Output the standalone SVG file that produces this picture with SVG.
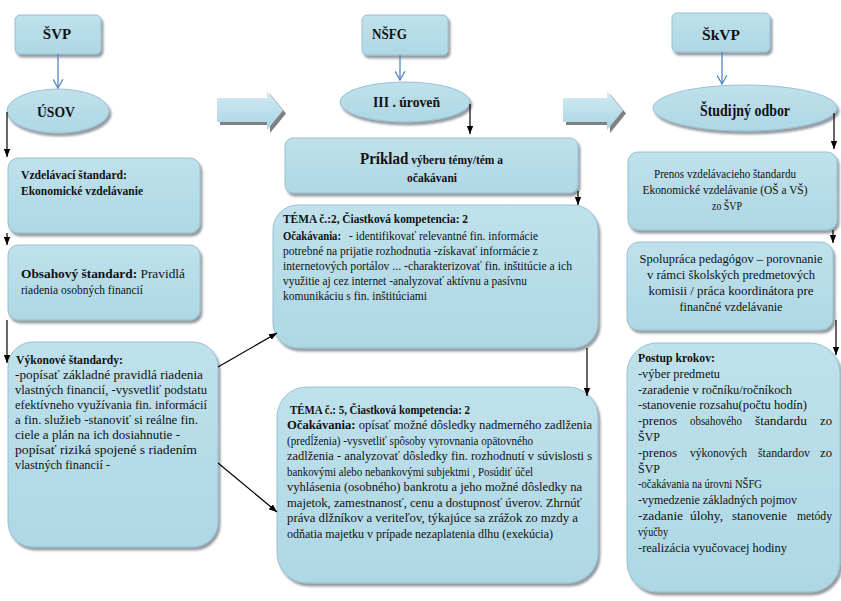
<svg xmlns="http://www.w3.org/2000/svg" width="841" height="601" viewBox="0 0 841 601">
<style>
.box{fill:url(#bg);stroke:#98c1d1;stroke-width:1;filter:url(#sh)}
.t{font-family:"Liberation Serif","Times New Roman",serif;font-size:13px;fill:#111}
.b{font-weight:bold}
.h{font-family:"Liberation Serif","Times New Roman",serif;font-size:15px;font-weight:bold;fill:#111}
.c{text-anchor:middle}
.k{stroke:#000;stroke-width:1.2;fill:none;marker-end:url(#ah)}
.bl{stroke:#5585c5;stroke-width:1.3;fill:none;marker-end:url(#ab)}
.ba{fill:url(#ag)}
.bs{fill:#808080}
</style>
<defs>
<linearGradient id="bg" x1="0" y1="0" x2="0" y2="1"><stop offset="0" stop-color="#bfe1ec"/><stop offset="1" stop-color="#aed7e4"/></linearGradient>
<linearGradient id="ag" x1="0" y1="0" x2="0" y2="1"><stop offset="0" stop-color="#d3ecf4"/><stop offset="1" stop-color="#a9d3e3"/></linearGradient>
<filter id="sh" x="-5%" y="-5%" width="115%" height="120%"><feDropShadow dx="2" dy="3" stdDeviation="1.2" flood-color="#3a4a55" flood-opacity="0.55"/></filter>
<marker id="ah" viewBox="0 0 10 10" refX="10" refY="5" markerWidth="8" markerHeight="8" markerUnits="userSpaceOnUse" orient="auto"><path d="M0,1 L10,5 L0,9 z" fill="#000"/></marker>
<marker id="ab" viewBox="0 0 10 10" refX="9" refY="5" markerWidth="11" markerHeight="11" markerUnits="userSpaceOnUse" orient="auto"><path d="M1,0.5 L9,5 L1,9.5" fill="none" stroke="#5585c5" stroke-width="1.2"/></marker>
</defs>
<rect width="841" height="601" fill="#fff"/>

<g id="block-arrow-1">
<polygon class="bs" points="220,101 270,101 270,94 286,113.5 270,133 270,125 220,125"/>
<polygon class="ba" points="217,98 267,98 267,91 283,110.5 267,130 267,122 217,122"/>
</g>
<g id="block-arrow-2">
<polygon class="bs" points="566,101 610,101 610,94 626,113.5 610,133 610,125 566,125"/>
<polygon class="ba" points="563,98 607,98 607,91 623,110.5 607,130 607,122 563,122"/>
</g>

<g id="svp"><rect class="box" x="15" y="15" width="86" height="39" rx="5"/><text class="h c" x="57" y="39">ŠVP</text></g>
<g id="usov"><ellipse class="box" cx="58" cy="111" rx="51" ry="22"/><text class="h c" x="56" y="117" textLength="38" lengthAdjust="spacingAndGlyphs">ÚSOV</text></g>
<g id="vzdelavaci"><rect class="box" x="8" y="158" width="192" height="75" rx="10"/>
<text class="t b" x="21" y="179" textLength="106" lengthAdjust="spacingAndGlyphs">Vzdelávací štandard:</text>
<text class="t b" x="21" y="195" textLength="122" lengthAdjust="spacingAndGlyphs">Ekonomické vzdelávanie</text></g>
<g id="obsahovy"><rect class="box" x="8" y="245" width="192" height="75" rx="10"/>
<text class="t" x="21" y="278" textLength="164" lengthAdjust="spacingAndGlyphs"><tspan class="b">Obsahový štandard:</tspan> Pravidlá</text>
<text class="t" x="21" y="294" textLength="122" lengthAdjust="spacingAndGlyphs">riadenia osobných financií</text></g>
<g id="vykonove"><rect class="box" x="8" y="342" width="210" height="205" rx="25"/>
<text class="t b" x="16" y="364" textLength="107" lengthAdjust="spacingAndGlyphs">Výkonové štandardy:</text>
<text class="t" x="15" y="379" textLength="188" lengthAdjust="spacingAndGlyphs">-popísať základné pravidlá riadenia</text>
<text class="t" x="15" y="394" textLength="192" lengthAdjust="spacingAndGlyphs">vlastných financií, -vysvetliť podstatu</text>
<text class="t" x="15" y="409" textLength="192" lengthAdjust="spacingAndGlyphs">efektívneho využívania fin. informácií</text>
<text class="t" x="15" y="424" textLength="183" lengthAdjust="spacingAndGlyphs">a fin. služieb -stanoviť si reálne fin.</text>
<text class="t" x="15" y="439" textLength="165" lengthAdjust="spacingAndGlyphs">ciele a plán na ich dosiahnutie -</text>
<text class="t" x="15" y="454" textLength="182" lengthAdjust="spacingAndGlyphs">popísať riziká spojené s riadením</text>
<text class="t" x="15" y="469" textLength="95" lengthAdjust="spacingAndGlyphs">vlastných financií -</text></g>

<g id="nsfg"><rect class="box" x="362" y="15" width="86" height="40" rx="5"/><text class="h" x="372" y="39" textLength="35" lengthAdjust="spacingAndGlyphs">NŠFG</text></g>
<g id="uroven"><ellipse class="box" cx="405" cy="102" rx="65" ry="20"/><text class="h" x="373" y="107" textLength="67" lengthAdjust="spacingAndGlyphs">III . úroveň</text></g>
<g id="priklad"><rect class="box" x="285" y="138" width="293" height="55" rx="8"/>
<text class="t b" x="360" y="164" textLength="143" lengthAdjust="spacingAndGlyphs"><tspan style="font-size:17px">Príklad</tspan> výberu témy/tém a</text>
<text class="t b" x="407" y="182" textLength="50" lengthAdjust="spacingAndGlyphs">očakávani</text></g>
<g id="tema2"><rect class="box" x="273" y="205" width="325" height="143" rx="25"/>
<text class="t b" x="283" y="223" textLength="185" lengthAdjust="spacingAndGlyphs">TÉMA č.:2, Čiastková kompetencia: 2</text>
<text class="t b" x="283" y="239.5" style="font-size:12px" textLength="58" lengthAdjust="spacingAndGlyphs">Očakávania:</text>
<text class="t" x="349" y="239.5" textLength="189" lengthAdjust="spacingAndGlyphs">- identifikovať relevantné fin. informácie</text>
<text class="t" x="283" y="255" textLength="255" lengthAdjust="spacingAndGlyphs">potrebné na prijatie rozhodnutia -získavať informácie z</text>
<text class="t" x="283" y="270" textLength="289" lengthAdjust="spacingAndGlyphs">internetových portálov ... -charakterizovať fin. inštitúcie a ich</text>
<text class="t" x="283" y="285" textLength="244" lengthAdjust="spacingAndGlyphs">využitie aj cez internet -analyzovať aktívnu a pasívnu</text>
<text class="t" x="283" y="300" textLength="144" lengthAdjust="spacingAndGlyphs">komunikáciu s fin. inštitúciami</text></g>
<g id="tema5"><rect class="box" x="277" y="387" width="321" height="196" rx="30"/>
<text class="t b" x="290" y="414" textLength="180" lengthAdjust="spacingAndGlyphs">TÉMA č.: 5, Čiastková kompetencia: 2</text>
<text class="t" x="287" y="429" textLength="305" lengthAdjust="spacingAndGlyphs"><tspan class="b">Očakávania:</tspan> opísať možné dôsledky nadmerného zadlženia</text>
<text class="t" x="287" y="445" textLength="246" lengthAdjust="spacingAndGlyphs">(predĺženia) -vysvetliť spôsoby vyrovnania opätovného</text>
<text class="t" x="287" y="460" textLength="305" lengthAdjust="spacingAndGlyphs">zadlženia - analyzovať dôsledky fin. rozhodnutí v súvislosti s</text>
<text class="t" x="287" y="476" textLength="246" lengthAdjust="spacingAndGlyphs">bankovými alebo nebankovými subjektmi , Posúdiť účel</text>
<text class="t" x="287" y="491" textLength="295" lengthAdjust="spacingAndGlyphs">vyhlásenia (osobného) bankrotu a jeho možné dôsledky na</text>
<text class="t" x="287" y="507" textLength="295" lengthAdjust="spacingAndGlyphs">majetok, zamestnanosť, cenu a dostupnosť úverov. Zhrnúť</text>
<text class="t" x="287" y="522" textLength="291" lengthAdjust="spacingAndGlyphs">práva dlžníkov a veriteľov, týkajúce sa zrážok zo mzdy a</text>
<text class="t" x="287" y="538" textLength="266" lengthAdjust="spacingAndGlyphs">odňatia majetku v prípade nezaplatenia dlhu (exekúcia)</text></g>

<g id="skvp"><rect class="box" x="672" y="13" width="98" height="39" rx="5"/><text class="h c" x="721" y="40" textLength="38" lengthAdjust="spacingAndGlyphs">ŠkVP</text></g>
<g id="studijny"><ellipse class="box" cx="745" cy="108" rx="92" ry="23"/><text class="h c" x="745" y="116" style="font-size:16px" textLength="90" lengthAdjust="spacingAndGlyphs">Študijný odbor</text></g>
<g id="prenos"><rect class="box" x="628" y="152" width="209" height="78" rx="10"/>
<text class="t c" x="725" y="178" textLength="142" lengthAdjust="spacingAndGlyphs">Prenos vzdelávacieho štandardu</text>
<text class="t c" x="725" y="194" textLength="165" lengthAdjust="spacingAndGlyphs">Ekonomické vzdelávanie (OŠ a VŠ)</text>
<text class="t c" x="727" y="210" textLength="30" lengthAdjust="spacingAndGlyphs">zo ŠVP</text></g>
<g id="spolupraca"><rect class="box" x="627" y="242" width="206" height="88" rx="12"/>
<text class="t c" x="731" y="263" textLength="183" lengthAdjust="spacingAndGlyphs">Spolupráca pedagógov – porovnanie</text>
<text class="t c" x="731" y="279" textLength="168" lengthAdjust="spacingAndGlyphs">v rámci školských predmetových</text>
<text class="t c" x="731" y="295" textLength="165" lengthAdjust="spacingAndGlyphs">komisii / práca koordinátora pre</text>
<text class="t c" x="731" y="311" textLength="103" lengthAdjust="spacingAndGlyphs">finančné vzdelávanie</text></g>
<g id="postup"><rect class="box" x="627" y="343" width="213" height="249" rx="30"/>
<text class="t b" x="638" y="362" textLength="77" lengthAdjust="spacingAndGlyphs">Postup krokov:</text>
<text class="t" x="638" y="378" textLength="82" lengthAdjust="spacingAndGlyphs">-výber predmetu</text>
<text class="t" x="638" y="394" textLength="154" lengthAdjust="spacingAndGlyphs">-zaradenie v ročníku/ročníkoch</text>
<text class="t" x="638" y="409" textLength="169" lengthAdjust="spacingAndGlyphs">-stanovenie rozsahu(počtu hodín)</text>
<text class="t" x="638" y="425" textLength="39" lengthAdjust="spacingAndGlyphs">-prenos</text>
<text class="t" x="690" y="425" textLength="52" lengthAdjust="spacingAndGlyphs">obsahového</text>
<text class="t" x="755" y="425" textLength="52" lengthAdjust="spacingAndGlyphs">štandardu</text>
<text class="t" x="820" y="425" textLength="12" lengthAdjust="spacingAndGlyphs">zo</text>
<text class="t" x="638" y="441" textLength="22" lengthAdjust="spacingAndGlyphs">ŠVP</text>
<text class="t" x="638" y="457" textLength="39" lengthAdjust="spacingAndGlyphs">-prenos</text>
<text class="t" x="690" y="457" textLength="57" lengthAdjust="spacingAndGlyphs">výkonových</text>
<text class="t" x="758" y="457" textLength="52" lengthAdjust="spacingAndGlyphs">štandardov</text>
<text class="t" x="820" y="457" textLength="12" lengthAdjust="spacingAndGlyphs">zo</text>
<text class="t" x="638" y="473" textLength="22" lengthAdjust="spacingAndGlyphs">ŠVP</text>
<text class="t" x="638" y="488" textLength="124" lengthAdjust="spacingAndGlyphs">-očakávania na úrovni NŠFG</text>
<text class="t" x="638" y="504" textLength="159" lengthAdjust="spacingAndGlyphs">-vymedzenie základných pojmov</text>
<text class="t" x="638" y="520" textLength="45" lengthAdjust="spacingAndGlyphs">-zadanie</text>
<text class="t" x="690" y="520" textLength="33" lengthAdjust="spacingAndGlyphs">úlohy,</text>
<text class="t" x="732" y="520" textLength="55" lengthAdjust="spacingAndGlyphs">stanovenie</text>
<text class="t" x="797" y="520" textLength="35" lengthAdjust="spacingAndGlyphs">metódy</text>
<text class="t" x="638" y="536" textLength="30" lengthAdjust="spacingAndGlyphs">výučby</text>
<text class="t" x="638" y="552" textLength="149" lengthAdjust="spacingAndGlyphs">-realizácia vyučovacej hodiny</text></g>

<g id="connectors">
<path class="bl" d="M58,54 V88"/>
<path class="bl" d="M400,55 V80"/>
<path class="bl" d="M722,52 V84"/>
<path class="k" d="M7,112 V157"/>
<path class="k" d="M7,233 V245"/>
<path class="k" d="M7,320 V363"/>
<path class="k" d="M218,367 L277,333"/>
<path class="k" d="M218,463 L277,512"/>
<path class="k" d="M470,104 V134"/>
<path class="k" d="M578,191 V205"/>
<path class="k" d="M587,348 V396"/>
<path class="k" d="M834,113 V149"/>
<path class="k" d="M833,230 V243"/>
<path class="k" d="M836,320 V355"/>
</g>
</svg>
